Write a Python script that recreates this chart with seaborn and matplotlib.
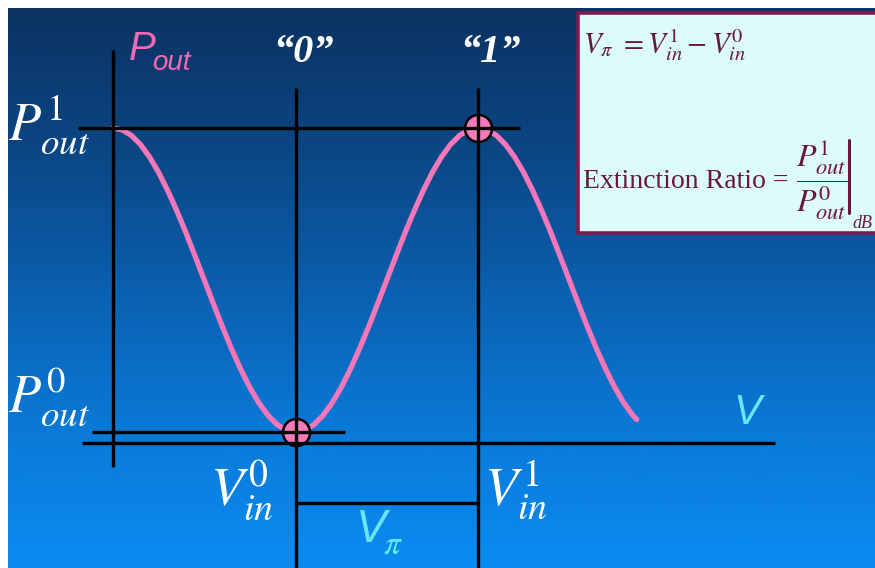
import numpy as np
import pandas as pd
import matplotlib
matplotlib.use("Agg")
import matplotlib.pyplot as plt
from matplotlib.colors import LinearSegmentedColormap
from matplotlib.patches import Rectangle
from matplotlib.lines import Line2D
import seaborn as sns

# Modulator transfer curve: drive voltage (in units of V_pi) vs. normalised output power
v_drive = [0.00, 0.05, 0.10, 0.15, 0.20, 0.25, 0.30, 0.35, 0.40, 0.45,
           0.50, 0.55, 0.60, 0.65, 0.70, 0.75, 0.80, 0.85, 0.90, 0.95,
           1.00, 1.05, 1.10, 1.15, 1.20, 1.25, 1.30, 1.35, 1.40, 1.45,
           1.50, 1.55, 1.60, 1.65, 1.70, 1.75, 1.80, 1.85, 1.90, 1.95,
           2.00, 2.05, 2.10, 2.15, 2.20, 2.25, 2.30, 2.35, 2.40, 2.45,
           2.50, 2.55, 2.60, 2.65, 2.70, 2.75, 2.80, 2.85, 2.87]
p_out = [1.000, 0.994, 0.976, 0.946, 0.905, 0.854, 0.794, 0.727, 0.655, 0.578,
         0.500, 0.422, 0.345, 0.273, 0.206, 0.146, 0.095, 0.054, 0.024, 0.006,
         0.000, 0.006, 0.024, 0.054, 0.095, 0.146, 0.206, 0.273, 0.345, 0.422,
         0.500, 0.578, 0.655, 0.727, 0.794, 0.854, 0.905, 0.946, 0.976, 0.994,
         1.000, 0.994, 0.976, 0.946, 0.905, 0.854, 0.794, 0.727, 0.655, 0.578,
         0.500, 0.422, 0.345, 0.273, 0.206, 0.146, 0.095, 0.054, 0.041]

# Operating points for the two bit levels
bit_labels = ["\u201c0\u201d", "\u201c1\u201d"]
v_bits = [1.0, 2.0]
p_bits = [0.0, 1.0]

sns.set_theme(style="white")
plt.rcParams["font.family"] = ["Liberation Serif", "DejaVu Serif"]
plt.rcParams["mathtext.fontset"] = "stix"

W, H = 875, 568
fig = plt.figure(figsize=(W / 100, H / 100), dpi=100, facecolor="white")


def fx(x):
    return x / W


def fy(y):
    return 1 - y / H


# slide-style gradient backdrop
bg = fig.add_axes([fx(8), 0, 1 - fx(8), fy(8)])
sky = LinearSegmentedColormap.from_list(
    "sky", [(0.0, "#0b3262"), (0.25, "#0b4683"), (0.5, "#0a5fae"),
            (0.75, "#0a79d6"), (1.0, "#0a8cf2")])
bg.imshow(np.linspace(0, 1, 256).reshape(-1, 1), aspect="auto", cmap=sky,
          extent=(0, 1, 0, 1))
bg.set_axis_off()

# main drawing axes: x in units of V_pi, y in normalised power
ax = fig.add_axes([0, 0, 1, 1])
ax.set_xlim(-113 / 182.5, 762 / 182.5)
ax.set_ylim(-136 / 304, 432 / 304)
ax.set_axis_off()

curve = pd.DataFrame({"V": v_drive, "P": p_out})
sns.lineplot(data=curve, x="V", y="P", color="#f477b9", linewidth=3.8,
             ax=ax, zorder=2, estimator=None, sort=False)

sns.scatterplot(x=v_bits, y=p_bits, s=380, color="#f47ab9",
                edgecolor="black", linewidth=1.8, ax=ax, zorder=2.5)

line_kw = dict(color="black", linewidth=2.4, zorder=3)
# power axis and voltage axis
ax.vlines(v_drive[0], -0.115, 1.257, **line_kw)
ax.hlines(-0.036, -0.17, 3.627, **line_kw)
# level lines for P1 and P0
ax.hlines(p_bits[1], -0.192, 2.23, **line_kw)
ax.hlines(p_bits[0], -0.115, 1.27, **line_kw)
# drop lines at the bit voltages
ax.vlines(v_bits, ax.get_ylim()[0], 1.132, **line_kw)
# V_pi span
ax.hlines(-0.234, v_bits[0], v_bits[1], **line_kw)

white = "white"
cyan = "#66e6f6"
pink = "#f26bb2"

fig.text(fx(8), fy(125), r"$P^{1}_{out}$", fontsize=38, color=white,
         ha="left", va="center")
fig.text(fx(8), fy(397), r"$P^{0}_{out}$", fontsize=38, color=white,
         ha="left", va="center")
fig.text(fx(210), fy(490), r"$V^{0}_{in}$", fontsize=39, color=white,
         ha="left", va="center")
fig.text(fx(484), fy(490), r"$V^{1}_{in}$", fontsize=39, color=white,
         ha="left", va="center")

for lab, xpx in zip(bit_labels, [303, 490]):
    fig.text(fx(xpx), fy(52), lab, fontsize=29, fontweight="bold",
             fontstyle="italic", color=white, ha="center", va="center")

sans = ["Liberation Sans", "DejaVu Sans"]
fig.text(fx(129), fy(60), "P", fontsize=29, fontstyle="italic",
         family=sans, color=pink, ha="left", va="baseline")
fig.text(fx(152), fy(70), "out", fontsize=20, fontstyle="italic",
         family=sans, color=pink, ha="left", va="baseline")

fig.text(fx(733), fy(424), "V", fontsize=30, fontstyle="italic",
         family=sans, color=cyan, ha="left", va="baseline")
fig.text(fx(355), fy(542), "V", fontsize=33, fontstyle="italic",
         family=sans, color=cyan, ha="left", va="baseline")
fig.text(fx(383), fy(553), r"$\pi$", fontsize=24, color=cyan,
         ha="left", va="baseline")

# definition box
maroon = "#6b1838"
fig.patches.append(Rectangle((fx(578), fy(233)), fx(880 - 578), (233 - 13) / H,
                             transform=fig.transFigure, facecolor="#dcfcfc",
                             edgecolor="#7d1d4f", linewidth=2.6, zorder=5))
fig.text(fx(583), fy(45), r"$V_{\pi}\ = V^{1}_{in} - V^{0}_{in}$",
         fontsize=21, color=maroon, ha="left", va="center", zorder=6)
fig.text(fx(583), fy(188), "Extinction Ratio =", fontsize=20,
         color=maroon, ha="left", va="baseline", zorder=6)
fig.text(fx(822), fy(180), r"$\dfrac{P^{1}_{out}}{P^{0}_{out}}$",
         fontsize=23, color=maroon, ha="center", va="center", zorder=6)
fig.add_artist(Line2D([fx(849), fx(849)], [fy(140), fy(213)],
                      transform=fig.transFigure, color=maroon,
                      linewidth=2.2, zorder=6))
fig.text(fx(852), fy(228), "dB", fontsize=13, fontstyle="italic",
         color=maroon, ha="left", va="baseline", zorder=6)

fig.savefig("out.png", dpi=100, facecolor="white")
